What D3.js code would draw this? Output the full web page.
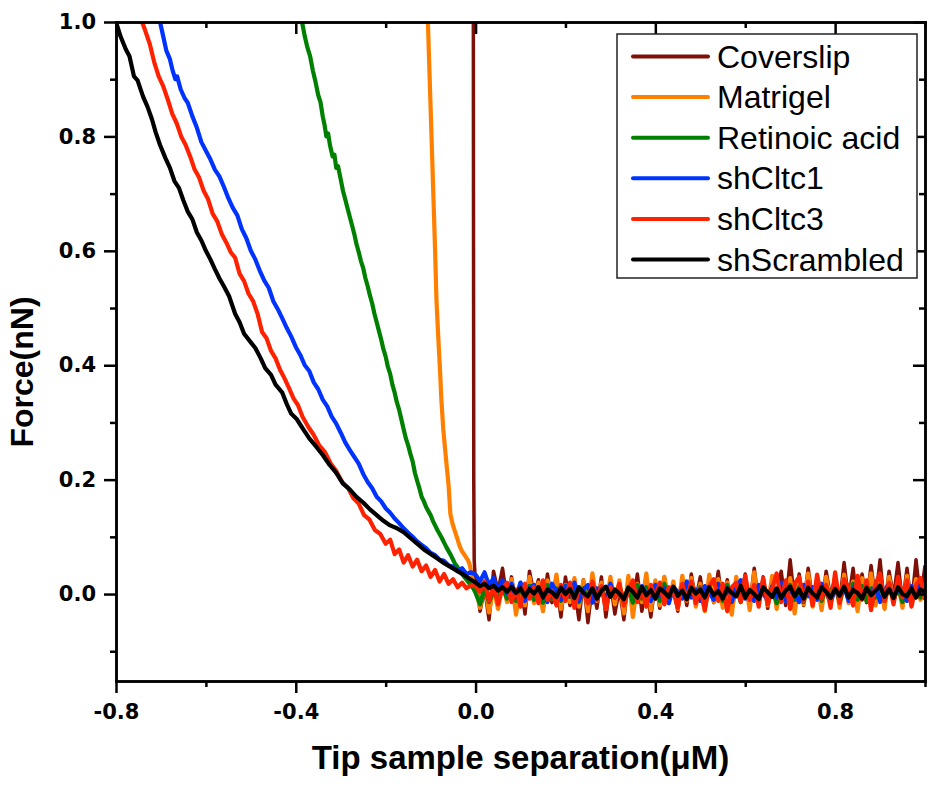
<!DOCTYPE html>
<html>
<head>
<meta charset="utf-8">
<script src="https://cdn.jsdelivr.net/npm/d3@7/dist/d3.min.js"></script>
<style>
  body { margin: 0; background: #fff; }
  .axis path, .axis line { stroke: #000; stroke-width: 2.5; }
  .axis text { font-family: "DejaVu Sans", sans-serif; font-weight: bold; font-size: 21px; fill: #000; }
  .title { font-family: "Liberation Sans", Arial, sans-serif; font-weight: bold; fill: #000; }
  .legend text { font-family: "Liberation Sans", Arial, sans-serif; font-size: 32px; fill: #000; }
</style>
</head>
<body>
<svg id="chart"></svg>
<script>
var seriesNames = ["Coverslip", "Matrigel", "Retinoic acid", "shCltc1", "shCltc3", "shScrambled"];
var seriesColors = ["#7f1008", "#ff8000", "#008000", "#0033ff", "#ff2200", "#000000"];

var xTicks = [-0.8, -0.4, 0.0, 0.4, 0.8];
var yTicks = [0.0, 0.2, 0.4, 0.6, 0.8, 1.0];

// approach part of each curve, [separation, force]
var approachCoverslip = [[-0.005, 1.05], [-0.0045, 0.6], [-0.004, 0.2], [-0.003, 0.06], [-0.001, 0.03]];

var approachMatrigel = [[-0.108, 1.03], [-0.106, 1.0], [-0.102, 0.9], [-0.098, 0.8], [-0.094, 0.7], [-0.09, 0.6],
  [-0.087, 0.514], [-0.083, 0.45], [-0.079, 0.39], [-0.076, 0.339], [-0.072, 0.29], [-0.068, 0.255],
  [-0.064, 0.222], [-0.06, 0.19], [-0.056, 0.14], [-0.051, 0.122], [-0.046, 0.11], [-0.041, 0.098],
  [-0.036, 0.085], [-0.031, 0.076], [-0.026, 0.07], [-0.021, 0.064], [-0.016, 0.058], [-0.012, 0.048],
  [-0.008, 0.03], [-0.004, 0.015]];

var approachRetinoic = [[-0.392, 1.03], [-0.386, 1.0], [-0.38, 0.975], [-0.374, 0.955], [-0.368, 0.94], [-0.362, 0.915],
  [-0.356, 0.895], [-0.35, 0.872], [-0.345, 0.86], [-0.34, 0.835], [-0.336, 0.82], [-0.332, 0.8], [-0.328, 0.805],
  [-0.324, 0.785], [-0.318, 0.765], [-0.314, 0.768], [-0.31, 0.745], [-0.306, 0.748], [-0.3, 0.725], [-0.295, 0.705],
  [-0.29, 0.69], [-0.285, 0.675], [-0.28, 0.66], [-0.275, 0.645], [-0.27, 0.63], [-0.265, 0.612], [-0.26, 0.598],
  [-0.255, 0.582], [-0.25, 0.57], [-0.245, 0.552], [-0.24, 0.538], [-0.235, 0.522], [-0.23, 0.508], [-0.225, 0.49],
  [-0.22, 0.475], [-0.215, 0.46], [-0.21, 0.445], [-0.205, 0.428], [-0.2, 0.415], [-0.195, 0.397], [-0.19, 0.385],
  [-0.185, 0.366], [-0.18, 0.352], [-0.175, 0.335], [-0.17, 0.322], [-0.165, 0.305], [-0.16, 0.288], [-0.155, 0.272],
  [-0.15, 0.26], [-0.145, 0.245], [-0.14, 0.232], [-0.135, 0.212], [-0.13, 0.198], [-0.125, 0.185], [-0.12, 0.17],
  [-0.115, 0.162], [-0.11, 0.152], [-0.105, 0.145], [-0.1, 0.138], [-0.095, 0.128], [-0.09, 0.12], [-0.085, 0.112],
  [-0.08, 0.105], [-0.075, 0.098], [-0.07, 0.09], [-0.065, 0.082], [-0.06, 0.075], [-0.055, 0.068], [-0.05, 0.06],
  [-0.045, 0.052], [-0.04, 0.047], [-0.035, 0.04], [-0.03, 0.035], [-0.025, 0.03], [-0.02, 0.025], [-0.015, 0.02],
  [-0.01, 0.015], [-0.005, 0.01]];

var approachShCltc1 = [[-0.71, 1.03], [-0.702, 1.0], [-0.695, 0.975], [-0.688, 0.95], [-0.68, 0.935], [-0.674, 0.915],
  [-0.668, 0.9], [-0.664, 0.905], [-0.656, 0.882], [-0.648, 0.868], [-0.64, 0.858], [-0.63, 0.835], [-0.62, 0.815],
  [-0.61, 0.79], [-0.6, 0.775], [-0.59, 0.76], [-0.58, 0.742], [-0.57, 0.73], [-0.56, 0.712], [-0.55, 0.692],
  [-0.54, 0.675], [-0.53, 0.662], [-0.52, 0.638], [-0.51, 0.622], [-0.5, 0.6], [-0.49, 0.585], [-0.48, 0.565],
  [-0.47, 0.548], [-0.46, 0.535], [-0.45, 0.512], [-0.44, 0.498], [-0.43, 0.482], [-0.42, 0.465], [-0.41, 0.45],
  [-0.4, 0.432], [-0.39, 0.418], [-0.38, 0.4], [-0.37, 0.39], [-0.36, 0.37], [-0.35, 0.358], [-0.34, 0.34],
  [-0.33, 0.328], [-0.32, 0.31], [-0.31, 0.298], [-0.3, 0.282], [-0.29, 0.265], [-0.28, 0.252], [-0.27, 0.24],
  [-0.26, 0.228], [-0.25, 0.21], [-0.24, 0.196], [-0.23, 0.185], [-0.22, 0.17], [-0.21, 0.162], [-0.2, 0.15],
  [-0.19, 0.142], [-0.18, 0.132], [-0.17, 0.124], [-0.16, 0.115], [-0.15, 0.107], [-0.14, 0.1], [-0.13, 0.092],
  [-0.12, 0.086], [-0.11, 0.08], [-0.1, 0.072], [-0.09, 0.068], [-0.08, 0.06], [-0.07, 0.058], [-0.06, 0.05],
  [-0.05, 0.048], [-0.04, 0.04], [-0.03, 0.045], [-0.02, 0.035], [-0.01, 0.038]];

var approachShCltc3 = [[-0.75, 1.03], [-0.742, 1.0], [-0.735, 0.985], [-0.725, 0.962], [-0.715, 0.93], [-0.705, 0.905],
  [-0.695, 0.888], [-0.685, 0.865], [-0.675, 0.84], [-0.665, 0.823], [-0.655, 0.8], [-0.645, 0.785], [-0.635, 0.765],
  [-0.625, 0.742], [-0.615, 0.728], [-0.605, 0.705], [-0.595, 0.69], [-0.585, 0.665], [-0.575, 0.652], [-0.565, 0.63],
  [-0.555, 0.615], [-0.545, 0.598], [-0.535, 0.588], [-0.525, 0.56], [-0.515, 0.547], [-0.505, 0.525], [-0.495, 0.512],
  [-0.485, 0.49], [-0.475, 0.458], [-0.465, 0.447], [-0.455, 0.425], [-0.445, 0.412], [-0.435, 0.392], [-0.425, 0.377],
  [-0.415, 0.36], [-0.405, 0.342], [-0.395, 0.33], [-0.385, 0.31], [-0.372, 0.292], [-0.36, 0.278], [-0.348, 0.26],
  [-0.335, 0.248], [-0.322, 0.228], [-0.31, 0.215], [-0.297, 0.196], [-0.284, 0.186], [-0.272, 0.168], [-0.26, 0.158],
  [-0.248, 0.138], [-0.236, 0.13], [-0.224, 0.112], [-0.212, 0.105], [-0.2, 0.088], [-0.19, 0.095], [-0.18, 0.07],
  [-0.17, 0.078], [-0.16, 0.055], [-0.15, 0.068], [-0.14, 0.048], [-0.13, 0.06], [-0.12, 0.04], [-0.11, 0.05],
  [-0.1, 0.03], [-0.09, 0.042], [-0.08, 0.022], [-0.07, 0.035], [-0.06, 0.018], [-0.05, 0.026], [-0.04, 0.012],
  [-0.03, 0.02], [-0.02, 0.01], [-0.01, 0.015]];

var approachShScrambled = [[-0.8, 1.0], [-0.79, 0.975], [-0.778, 0.952], [-0.77, 0.94], [-0.76, 0.905], [-0.752, 0.898],
  [-0.74, 0.87], [-0.73, 0.852], [-0.72, 0.83], [-0.712, 0.808], [-0.702, 0.785], [-0.69, 0.762], [-0.68, 0.745],
  [-0.67, 0.722], [-0.66, 0.71], [-0.65, 0.688], [-0.64, 0.668], [-0.63, 0.655], [-0.62, 0.632], [-0.61, 0.618],
  [-0.6, 0.6], [-0.59, 0.585], [-0.58, 0.568], [-0.57, 0.552], [-0.56, 0.538], [-0.548, 0.52], [-0.535, 0.49],
  [-0.525, 0.475], [-0.515, 0.455], [-0.5, 0.44], [-0.49, 0.43], [-0.478, 0.412], [-0.468, 0.395], [-0.455, 0.383],
  [-0.445, 0.366], [-0.43, 0.352], [-0.42, 0.332], [-0.41, 0.315], [-0.398, 0.306], [-0.385, 0.29], [-0.37, 0.272],
  [-0.355, 0.258], [-0.34, 0.243], [-0.325, 0.226], [-0.31, 0.212], [-0.295, 0.193], [-0.28, 0.183], [-0.265, 0.17],
  [-0.25, 0.16], [-0.235, 0.148], [-0.22, 0.138], [-0.205, 0.128], [-0.19, 0.12], [-0.175, 0.115], [-0.16, 0.108],
  [-0.145, 0.098], [-0.13, 0.088], [-0.115, 0.078], [-0.1, 0.07], [-0.085, 0.062], [-0.07, 0.054], [-0.055, 0.047],
  [-0.04, 0.04], [-0.025, 0.033], [-0.01, 0.025]];

// flat part after contact, sampled every 0.01 from 0 to 1 (baseX)
var baseX = [0.00, 0.01, 0.02, 0.03, 0.04, 0.05, 0.06, 0.07, 0.08, 0.09, 0.10, 0.11, 0.12, 0.13, 0.14, 0.15, 0.16,
  0.17, 0.18, 0.19, 0.20, 0.21, 0.22, 0.23, 0.24, 0.25, 0.26, 0.27, 0.28, 0.29, 0.30, 0.31, 0.32, 0.33, 0.34, 0.35,
  0.36, 0.37, 0.38, 0.39, 0.40, 0.41, 0.42, 0.43, 0.44, 0.45, 0.46, 0.47, 0.48, 0.49, 0.50, 0.51, 0.52, 0.53, 0.54,
  0.55, 0.56, 0.57, 0.58, 0.59, 0.60, 0.61, 0.62, 0.63, 0.64, 0.65, 0.66, 0.67, 0.68, 0.69, 0.70, 0.71, 0.72, 0.73,
  0.74, 0.75, 0.76, 0.77, 0.78, 0.79, 0.80, 0.81, 0.82, 0.83, 0.84, 0.85, 0.86, 0.87, 0.88, 0.89, 0.90, 0.91, 0.92,
  0.93, 0.94, 0.95, 0.96, 0.97, 0.98, 0.99, 1.00];

var baseCoverslip = [0.030, -0.030, 0.010, -0.045, 0.040, 0.005, 0.045, -0.010, 0.030, -0.020,
  0.020, -0.035, 0.040, 0.000, 0.025, -0.030, 0.035, -0.015, 0.020, -0.040,
  0.030, -0.020, 0.010, -0.045, 0.025, -0.050, 0.015, -0.025, 0.030, -0.040,
  0.020, -0.035, 0.010, -0.045, 0.025, -0.020, 0.035, -0.030, 0.015, -0.040,
  0.020, -0.025, 0.030, -0.015, 0.010, -0.030, 0.025, -0.020, 0.035, -0.010,
  0.030, -0.025, 0.020, -0.015, 0.040, -0.020, 0.025, -0.030, 0.015, -0.010,
  0.035, -0.020, 0.045, -0.015, 0.030, -0.025, 0.020, -0.010, 0.040, -0.020,
  0.060, -0.015, 0.035, -0.020, 0.045, -0.010, 0.025, -0.025, 0.040, -0.005,
  0.030, -0.015, 0.055, -0.010, 0.045, -0.020, 0.035, -0.015, 0.050, -0.010,
  0.060, -0.025, 0.040, -0.005, 0.055, -0.015, 0.045, -0.020, 0.060, -0.010, 0.050];
var baseMatrigel = [0.012, -0.024, 0.018, -0.032, 0.010, -0.026, 0.022, -0.014, 0.026, -0.036,
  0.014, -0.020, 0.030, -0.016, 0.020, -0.030, 0.024, -0.008, 0.034, -0.026,
  0.016, -0.014, 0.028, -0.022, 0.024, -0.030, 0.036, -0.012, 0.020, -0.026,
  0.030, -0.018, 0.024, -0.034, 0.032, -0.040, 0.018, -0.014, 0.036, -0.028,
  0.024, -0.020, 0.030, -0.016, 0.022, -0.026, 0.032, -0.012, 0.028, -0.022,
  0.018, -0.030, 0.034, -0.014, 0.026, -0.024, 0.020, -0.036, 0.030, -0.010,
  0.024, -0.028, 0.038, -0.016, 0.022, -0.020, 0.032, -0.026, 0.018, -0.012,
  0.028, -0.034, 0.024, -0.018, 0.036, -0.022, 0.020, -0.028, 0.030, -0.014,
  0.026, -0.024, 0.034, -0.016, 0.022, -0.030, 0.028, -0.012, 0.036, -0.020,
  0.024, -0.026, 0.030, -0.014, 0.020, -0.024, 0.032, -0.018, 0.026, -0.010, 0.018];
var baseRetinoic = [0.002, -0.018, 0.010, -0.014, 0.006, -0.010, 0.012, -0.008, 0.015, -0.012,
  0.010, -0.006, 0.014, -0.010, 0.012, -0.015, 0.016, -0.008, 0.010, -0.012,
  0.015, -0.005, 0.012, -0.014, 0.010, -0.008, 0.018, -0.010, 0.012, -0.012,
  0.015, -0.006, 0.014, -0.010, 0.012, -0.015, 0.016, -0.008, 0.012, -0.010,
  0.014, -0.012, 0.018, -0.008, 0.012, -0.014, 0.016, -0.006, 0.015, -0.010,
  0.012, -0.016, 0.010, -0.008, 0.014, -0.012, 0.016, -0.006, 0.012, -0.014,
  0.018, -0.010, 0.012, -0.008, 0.015, -0.012, 0.010, -0.016, 0.014, -0.006,
  0.016, -0.010, 0.012, -0.014, 0.018, -0.008, 0.010, -0.012, 0.014, -0.006,
  0.016, -0.014, 0.012, -0.008, 0.018, -0.010, 0.014, -0.012, 0.010, -0.006,
  0.016, -0.012, 0.014, -0.008, 0.012, -0.014, 0.018, -0.010, 0.012, -0.006, 0.014];
var baseShCltc1 = [0.034, 0.022, 0.038, 0.015, 0.028, 0.008, 0.024, 0.002, 0.018, -0.006,
  0.020, -0.012, 0.010, 0.016, -0.008, 0.012, -0.014, 0.018, 0.004, -0.010,
  0.014, -0.004, 0.020, -0.012, 0.008, 0.016, -0.015, 0.010, 0.002, -0.008,
  0.018, -0.006, 0.012, -0.014, 0.006, 0.020, -0.010, 0.014, 0.000, -0.012,
  0.016, -0.004, 0.010, -0.016, 0.012, 0.004, -0.008, 0.022, -0.006, 0.008,
  -0.012, 0.014, 0.002, -0.010, 0.018, -0.004, 0.010, -0.014, 0.012, 0.024,
  -0.008, 0.006, -0.012, 0.016, 0.000, -0.010, 0.014, -0.006, 0.020, -0.012,
  0.008, 0.002, -0.014, 0.016, -0.004, 0.012, -0.010, 0.018, 0.004, -0.016,
  0.010, -0.006, 0.014, -0.012, 0.008, 0.022, -0.008, 0.012, -0.004, 0.016,
  -0.014, 0.006, 0.018, -0.010, 0.010, 0.002, -0.012, 0.014, -0.006, 0.020, 0.004];
var baseShCltc3 = [0.014, 0.004, 0.022, -0.012, 0.016, -0.018, 0.010, 0.020, -0.014, 0.008,
  -0.022, 0.018, -0.008, 0.012, -0.016, 0.024, -0.010, 0.006, -0.020, 0.016,
  -0.012, 0.020, -0.024, 0.010, 0.002, -0.016, 0.022, -0.010, 0.014, -0.026,
  0.012, -0.006, 0.018, -0.020, 0.008, 0.024, -0.014, 0.010, -0.022, 0.016,
  -0.008, 0.020, -0.018, 0.012, 0.004, -0.024, 0.018, -0.010, 0.022, -0.016,
  0.010, -0.028, 0.014, 0.026, -0.012, 0.018, -0.030, 0.012, 0.020, -0.014,
  0.032, -0.010, 0.016, -0.022, 0.028, -0.018, 0.010, 0.036, -0.014, 0.024,
  -0.026, 0.018, 0.030, -0.012, 0.022, -0.020, 0.034, -0.008, 0.016, -0.024,
  0.038, -0.016, 0.026, 0.012, -0.020, 0.032, -0.010, 0.024, -0.028, 0.018,
  0.036, -0.012, 0.020, -0.018, 0.030, -0.006, 0.024, -0.022, 0.016, 0.028, -0.010];
var baseShScrambled = [0.020, 0.014, 0.018, 0.010, 0.015, 0.006, 0.012, 0.004, 0.013, 0.002,
  0.010, -0.004, 0.009, 0.001, 0.012, -0.006, 0.008, 0.003, -0.005, 0.011,
  0.000, 0.009, -0.007, 0.012, 0.002, -0.004, 0.010, -0.008, 0.006, 0.013,
  -0.005, 0.008, 0.001, -0.009, 0.011, 0.004, -0.006, 0.012, -0.002, 0.007,
  -0.008, 0.010, 0.003, -0.005, 0.013, -0.003, 0.006, -0.009, 0.011, 0.001,
  0.008, -0.006, 0.012, -0.002, 0.005, -0.008, 0.010, 0.002, -0.004, 0.014,
  -0.006, 0.007, 0.000, -0.009, 0.012, 0.003, -0.005, 0.010, -0.007, 0.006,
  0.013, -0.004, 0.008, -0.008, 0.011, 0.001, -0.006, 0.012, 0.004, -0.007,
  0.009, -0.003, 0.013, -0.006, 0.007, 0.002, -0.008, 0.011, -0.002, 0.006,
  0.014, -0.005, 0.009, -0.007, 0.012, 0.000, -0.004, 0.010, -0.006, 0.008, 0.003];

var approaches = [approachCoverslip, approachMatrigel, approachRetinoic, approachShCltc1, approachShCltc3, approachShScrambled];
var baselines = [baseCoverslip, baseMatrigel, baseRetinoic, baseShCltc1, baseShCltc3, baseShScrambled];

var series = seriesNames.map(function(name, i) {
  var pts = approaches[i].map(function(p) { return {x: p[0], y: p[1]}; });
  baselines[i].forEach(function(v, j) { pts.push({x: baseX[j], y: v}); });
  return {name: name, color: seriesColors[i], values: pts};
});

var W = 929, H = 787;
var margin = {top: 22, right: 4, bottom: 106, left: 116},
    width = W - margin.left - margin.right,
    height = H - margin.top - margin.bottom;

var svg = d3.select("#chart").attr("width", W).attr("height", H);
var chart = svg.append("g")
    .attr("transform", "translate(" + margin.left + "," + margin.top + ")");

var x = d3.scaleLinear().domain([-0.8, 1.0]).range([0, width]);
var y = d3.scaleLinear().domain([-0.152, 1.0]).range([height, 0]);

chart.append("clipPath").attr("id", "plotclip")
  .append("rect").attr("width", width).attr("height", height);

var line = d3.line()
    .x(function(d) { return x(d.x); })
    .y(function(d) { return y(d.y); });

chart.append("g").attr("clip-path", "url(#plotclip)")
  .selectAll("path")
  .data(series)
  .enter().append("path")
    .attr("d", function(d) { return line(d.values); })
    .attr("fill", "none")
    .attr("stroke", function(d) { return d.color; })
    .attr("stroke-width", function(d, i) { return i == 0 ? 3.5 : 4.2; })
    .attr("stroke-linejoin", "round");

var xMinor = [-0.6, -0.2, 0.2, 0.6, 1.0];
var yMinor = [-0.1, 0.1, 0.3, 0.5, 0.7, 0.9];

function fmt(d) { return d3.format(".1f")(d).replace("\u2212", "-"); }

// minor ticks first, then major with labels
chart.append("g").attr("class", "axis")
    .attr("transform", "translate(0," + height + ")")
    .call(d3.axisBottom(x).tickValues(xMinor).tickSize(6).tickFormat("").tickSizeOuter(0));
chart.append("g").attr("class", "axis")
    .attr("transform", "translate(0," + height + ")")
    .call(d3.axisBottom(x).tickValues(xTicks).tickSize(12).tickSizeOuter(0).tickPadding(6).tickFormat(fmt))
  .selectAll("text").attr("dy", "0.95em");

chart.append("g").attr("class", "axis")
    .call(d3.axisLeft(y).tickValues(yMinor).tickSize(6).tickFormat("").tickSizeOuter(0));
chart.append("g").attr("class", "axis")
    .call(d3.axisLeft(y).tickValues(yTicks).tickSize(12).tickSizeOuter(0).tickPadding(8).tickFormat(fmt));

// top and right: inward ticks, no labels
chart.append("g").attr("class", "axis")
    .call(d3.axisTop(x).tickValues(xMinor).tickSize(-6).tickFormat("").tickSizeOuter(0));
chart.append("g").attr("class", "axis")
    .call(d3.axisTop(x).tickValues(xTicks).tickSize(-12).tickFormat("").tickSizeOuter(0));
chart.append("g").attr("class", "axis")
    .attr("transform", "translate(" + width + ",0)")
    .call(d3.axisRight(y).tickValues(yMinor).tickSize(-6).tickFormat("").tickSizeOuter(0));
chart.append("g").attr("class", "axis")
    .attr("transform", "translate(" + width + ",0)")
    .call(d3.axisRight(y).tickValues(yTicks).tickSize(-12).tickFormat("").tickSizeOuter(0));

chart.selectAll(".axis path.domain").attr("stroke-linecap", "square");

// legend
var legend = svg.append("g").attr("class", "legend")
    .attr("transform", "translate(617,34)");
legend.append("rect")
    .attr("width", 300).attr("height", 244)
    .attr("fill", "#fff").attr("stroke", "#222").attr("stroke-width", 1.5);
var item = legend.selectAll(".item")
    .data(series)
  .enter().append("g")
    .attr("transform", function(d, i) { return "translate(0," + (22.5 + i * 40.6) + ")"; });
item.append("line")
    .attr("x1", 16).attr("x2", 91)
    .attr("stroke", function(d) { return d.color; })
    .attr("stroke-width", 4).attr("stroke-linecap", "round");
item.append("text")
    .attr("x", 100).attr("y", 11)
    .text(function(d) { return d.name; });

svg.append("text").attr("class", "title")
    .attr("x", margin.left + width / 2).attr("y", 769)
    .attr("text-anchor", "middle").attr("font-size", 33)
    .text("Tip sample separation(\u03bcM)");

svg.append("text").attr("class", "title")
    .attr("transform", "translate(33,372) rotate(-90)")
    .attr("text-anchor", "middle").attr("font-size", 32)
    .text("Force(nN)");
</script>
</body>
</html>
